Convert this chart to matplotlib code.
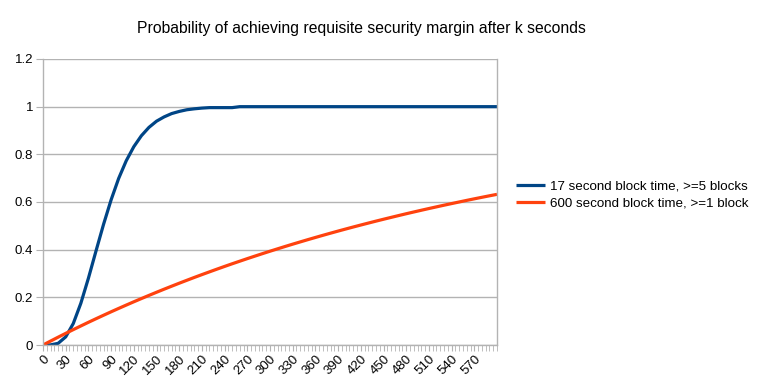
import matplotlib.pyplot as plt
import numpy as np

plt.rcParams['font.family'] = ['Liberation Sans', 'DejaVu Sans']

# seconds, sampled every 10 s
seconds = list(range(0, 610, 10))

# 17 second block time, >=5 blocks
blocks17 = [0.0, 0.0005, 0.007, 0.034, 0.090, 0.175, 0.280, 0.394, 0.506, 0.609,
            0.699, 0.773, 0.832, 0.878, 0.913, 0.939, 0.957, 0.971, 0.980, 0.987,
            0.991, 0.994, 0.996, 0.996, 0.996, 0.996, 1.0, 1.0, 1.0, 1.0,
            1.0, 1.0, 1.0, 1.0, 1.0, 1.0, 1.0, 1.0, 1.0, 1.0,
            1.0, 1.0, 1.0, 1.0, 1.0, 1.0, 1.0, 1.0, 1.0, 1.0,
            1.0, 1.0, 1.0, 1.0, 1.0, 1.0, 1.0, 1.0, 1.0, 1.0, 1.0]

# 600 second block time, >=1 block
blocks600 = [0.0, 0.0165, 0.0328, 0.0488, 0.0645, 0.0799, 0.0952, 0.1101, 0.1248, 0.1393,
             0.1535, 0.1675, 0.1813, 0.1948, 0.2081, 0.2212, 0.2341, 0.2467, 0.2592, 0.2714,
             0.2835, 0.2953, 0.3069, 0.3184, 0.3297, 0.3408, 0.3516, 0.3624, 0.3729, 0.3833,
             0.3935, 0.4035, 0.4134, 0.4231, 0.4326, 0.4420, 0.4512, 0.4603, 0.4692, 0.4780,
             0.4866, 0.4951, 0.5034, 0.5116, 0.5197, 0.5276, 0.5354, 0.5431, 0.5507, 0.5581,
             0.5654, 0.5726, 0.5796, 0.5866, 0.5934, 0.6001, 0.6068, 0.6133, 0.6197, 0.6260, 0.6321]

labels = ['17 second block time, >=5 blocks', '600 second block time, >=1 block']
title = 'Probability of achieving requisite security margin after k seconds'

grey = '#b3b3b3'

fig = plt.figure(figsize=(7.6, 3.88), dpi=100)
ax = fig.add_axes([43 / 760, 1 - 345 / 388, (497 - 43) / 760, (345 - 59) / 388])

ax.plot(seconds, blocks17, color='#004586', lw=2.3, label=labels[0], solid_capstyle='butt')
ax.plot(seconds, blocks600, color='#ff420e', lw=2.3, label=labels[1], solid_capstyle='butt')

ax.set_xlim(0, 600)
ax.set_ylim(0, 1.2)
ax.set_yticks(np.arange(0, 1.21, 0.2))
ax.set_yticklabels(['0', '0.2', '0.4', '0.6', '0.8', '1', '1.2'])
ax.set_xticks(range(0, 571, 30))
ax.set_xticklabels([str(v) for v in range(0, 571, 30)], rotation=45, ha='right',
                   rotation_mode='anchor')
ax.set_xticks(range(0, 601, 5), minor=True)

ax.grid(axis='y', color=grey, lw=1)
ax.set_axisbelow(True)
for s in ax.spines.values():
    s.set_color(grey)
    s.set_linewidth(1)
ax.spines['top'].set_visible(False)

ax.tick_params(axis='y', length=5, color=grey, labelsize=9.5, pad=2)
ax.tick_params(axis='x', which='both', length=4, color=grey, labelsize=9.5, pad=2)

fig.text(361 / 760, 1 - 29 / 388, title, ha='center', va='center', fontsize=11.3)

fig.legend(loc='center left', bbox_to_anchor=(504 / 760, 1 - 195 / 388), frameon=False,
           fontsize=9.6, handlelength=2.2, handletextpad=0.35, labelspacing=0.35)

fig.savefig('out.png', dpi=100)
